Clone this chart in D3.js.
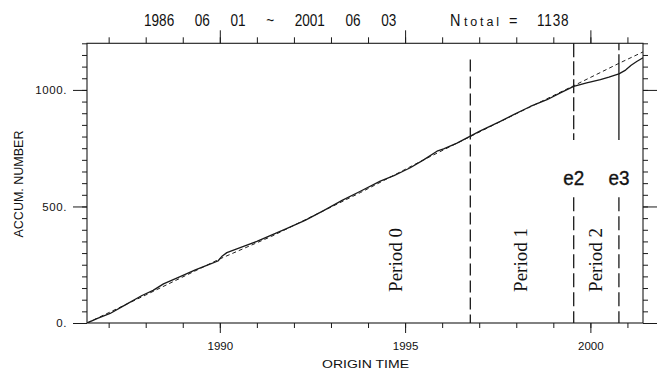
<!DOCTYPE html>
<html>
<head>
<meta charset="utf-8">
<script src="https://cdn.jsdelivr.net/npm/d3@7"></script>
<style>
  html, body { margin: 0; padding: 0; background: #fff; }
  svg { display: block; }
  text { fill: #111; }
</style>
</head>
<body>
<svg id="chart" width="658" height="370"></svg>
<script>
// Cumulative number of events against origin time (decimal years)
const obsYears = [1986.42, 1986.70, 1987.04, 1987.45, 1987.90, 1988.20, 1988.48, 1988.93, 1989.34, 1989.70,
  1989.95, 1990.05, 1990.19, 1990.64, 1991.00, 1991.36, 1991.80, 1992.30, 1992.80, 1993.30,
  1993.78, 1994.33, 1994.70, 1994.96, 1995.14, 1995.50, 1995.86, 1996.04, 1996.40, 1996.76,
  1997.03, 1997.57, 1997.93, 1998.38, 1998.83, 1999.19, 1999.55, 1999.90, 2000.27, 2000.50,
  2000.77, 2000.95, 2001.10, 2001.25, 2001.42];
const obsCounts = [0, 20, 41, 78, 118, 140, 168, 199, 228, 250,
  266, 285, 302, 329, 350, 375, 405, 440, 482, 526,
  564, 609, 632, 652, 666, 700, 737, 747, 772, 802,
  824, 865, 894, 929, 958, 987, 1015, 1030, 1044, 1055,
  1069, 1085, 1106, 1122, 1138];

// Expected cumulative number from the fitted model
const modelYears = [1986.42, 1988.0, 1990.0, 1991.4, 1993.8, 1995.5, 1996.76, 1998.0, 1999.55, 2000.77, 2001.42];
const modelCounts = [0, 120, 275, 372, 560, 700, 800, 898, 1018, 1114, 1163];

// Period boundary and event markers
const periodBoundary = 1996.76;
const eventNames = ["e2", "e3"];
const eventYears = [1999.55, 2000.77];
const periodNames = ["Period 0", "Period 1", "Period 2"];
const periodLabelYears = [1994.92, 1998.29, 2000.31];

const xMajor = [1990, 1995, 2000];
const xMinor = d3.range(1987, 2002);
const yMajor = [0, 500, 1000];
const yMinor = d3.range(0, 1201, 50);

const titleText = "1986 06 01 ~ 2001 06 03";
const totalCount = 1138;

const svg = d3.select("#chart");
const mLeft = 87, mRight = 643, mTop = 43.3, mBottom = 323;

const x = d3.scaleLinear().domain([1986.416, 2001.42]).range([mLeft, mRight]);
const y = d3.scaleLinear().domain([0, 1200]).range([mBottom, mTop]);

const ink = "#1a1a1a";
const sans = "Liberation Sans, Arial, sans-serif";

function styleAxis(g) {
  g.select(".domain").remove();
  g.selectAll(".tick line").attr("stroke", ink).attr("stroke-width", 1);
}

// bottom axis
svg.append("g").attr("transform", `translate(0,${mBottom})`)
  .call(d3.axisBottom(x).tickValues(xMinor).tickSize(5).tickFormat(""))
  .call(styleAxis);
svg.append("g").attr("transform", `translate(0,${mBottom})`)
  .call(d3.axisBottom(x).tickValues(xMajor).tickSize(10).tickPadding(9).tickFormat(d3.format("d")))
  .call(styleAxis)
  .call(g => g.selectAll("text").attr("font-family", sans)
    .attr("font-size", 11.5).attr("fill", ink));

// top axis
svg.append("g").attr("transform", `translate(0,${mTop})`)
  .call(d3.axisTop(x).tickValues(xMinor).tickSize(6).tickFormat(""))
  .call(styleAxis);
svg.append("g").attr("transform", `translate(0,${mTop})`)
  .call(d3.axisTop(x).tickValues(xMajor).tickSize(13).tickFormat(""))
  .call(styleAxis);

// left axis
svg.append("g").attr("transform", `translate(${mLeft},0)`)
  .call(d3.axisLeft(y).tickValues(yMinor).tickSize(5).tickFormat(""))
  .call(styleAxis);
svg.append("g").attr("transform", `translate(${mLeft},0)`)
  .call(d3.axisLeft(y).tickValues(yMajor).tickSize(14).tickPadding(6).tickFormat(d => d + "."))
  .call(styleAxis)
  .call(g => g.selectAll("text").attr("font-family", sans)
    .attr("font-size", 11.5).attr("letter-spacing", 0.6).attr("fill", ink));

// right axis
svg.append("g").attr("transform", `translate(${mRight},0)`)
  .call(d3.axisRight(y).tickValues(yMinor).tickSize(5).tickFormat(""))
  .call(styleAxis);
svg.append("g").attr("transform", `translate(${mRight},0)`)
  .call(d3.axisRight(y).tickValues(yMajor).tickSize(14).tickFormat(""))
  .call(styleAxis);

// frame
svg.append("rect")
  .attr("x", mLeft).attr("y", mTop)
  .attr("width", mRight - mLeft).attr("height", mBottom - mTop)
  .attr("fill", "none").attr("stroke", ink).attr("stroke-width", 1.1);

// curves
svg.append("clipPath").attr("id", "plotArea")
  .append("rect").attr("x", mLeft).attr("y", mTop).attr("width", mRight - mLeft).attr("height", mBottom - mTop);

const line = d3.line().x(d => x(d[0])).y(d => y(d[1]));

svg.append("path")
  .datum(d3.zip(modelYears, modelCounts))
  .attr("clip-path", "url(#plotArea)")
  .attr("d", line)
  .attr("fill", "none")
  .attr("stroke", "#222")
  .attr("stroke-width", 1)
  .attr("stroke-dasharray", "4,3");

svg.append("path")
  .datum(d3.zip(obsYears, obsCounts))
  .attr("clip-path", "url(#plotArea)")
  .attr("d", line)
  .attr("fill", "none")
  .attr("stroke", ink)
  .attr("stroke-width", 1.3)
  .attr("stroke-linejoin", "round");

// period boundary
svg.append("line")
  .attr("x1", x(periodBoundary)).attr("x2", x(periodBoundary))
  .attr("y1", y(1130)).attr("y2", y(0))
  .attr("stroke", ink).attr("stroke-width", 1.3)
  .attr("stroke-dasharray", "12,5");

// event markers: upper segment, label, lower segment
const ev = svg.append("g");
eventYears.forEach((yr, i) => {
  const xp = x(yr);
  ev.append("line")
    .attr("x1", xp).attr("x2", xp)
    .attr("y1", y(1200)).attr("y2", y(785))
    .attr("stroke", ink).attr("stroke-width", 1.3)
    .attr("stroke-dasharray", i === 0 ? "14,4" : "7,4,200");
  ev.append("text")
    .attr("transform", `translate(${xp},185) scale(0.9,1)`)
    .attr("text-anchor", "middle")
    .attr("font-family", sans)
    .attr("font-size", 21)
    .attr("stroke", ink).attr("stroke-width", 0.4)
    .attr("fill", ink)
    .text(eventNames[i]);
  ev.append("line")
    .attr("x1", xp).attr("x2", xp)
    .attr("y1", y(540)).attr("y2", y(0))
    .attr("stroke", ink).attr("stroke-width", 1.3)
    .attr("stroke-dasharray", "14,5");
});

// period labels (rotated, baseline on the right)
periodNames.forEach((name, i) => {
  const xp = x(periodLabelYears[i]);
  svg.append("text")
    .attr("transform", `translate(${xp},260) rotate(-90)`)
    .attr("text-anchor", "middle")
    .attr("font-family", "Liberation Serif, Times New Roman, serif")
    .attr("font-size", 19)
    .attr("fill", ink)
    .text(name);
});

// axis titles
svg.append("text")
  .attr("transform", "translate(23,184) rotate(-90)")
  .attr("text-anchor", "middle")
  .attr("font-family", sans)
  .attr("font-size", 13.5)
  .attr("textLength", 107).attr("lengthAdjust", "spacingAndGlyphs")
  .attr("fill", ink)
  .text("ACCUM. NUMBER");

svg.append("text")
  .attr("x", 322).attr("y", 368)
  .attr("font-family", sans)
  .attr("font-size", 11.5)
  .attr("textLength", 87).attr("lengthAdjust", "spacingAndGlyphs")
  .attr("fill", ink)
  .text("ORIGIN TIME");

// header: date range, narrowed glyphs with wide word gaps
svg.append("text")
  .attr("transform", "translate(144,25.5) scale(0.8,1)")
  .attr("font-family", sans)
  .attr("font-size", 17)
  .style("word-spacing", "21px")
  .attr("fill", ink)
  .text(titleText);

// header: total count
const hdr = svg.append("g").attr("font-family", sans).attr("fill", ink);
hdr.append("text").attr("transform", "translate(450,25.5) scale(0.85,1)")
  .attr("font-size", 17).text("N");
hdr.append("text").attr("x", 464).attr("y", 25.5)
  .attr("font-size", 12.5)
  .attr("textLength", 35).attr("lengthAdjust", "spacing")
  .text("total");
hdr.append("text").attr("transform", "translate(509,25.5) scale(0.85,1)")
  .attr("font-size", 17).text("=");
hdr.append("text").attr("transform", "translate(537,25.5) scale(0.8,1)")
  .attr("font-size", 17).attr("letter-spacing", 1).text(String(totalCount));
</script>
</body>
</html>
